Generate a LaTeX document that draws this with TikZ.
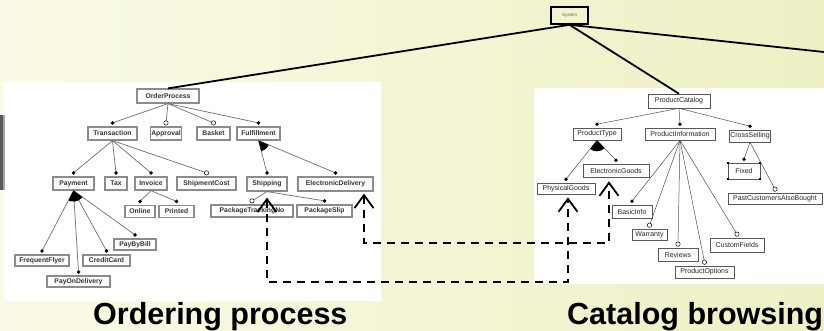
\documentclass[tikz,border=0pt]{standalone}
\usepackage{fontspec}
\setmainfont{Liberation Sans}
\usetikzlibrary{arrows.meta,calc}
\definecolor{bgleft}{HTML}{FAFAE6}
\definecolor{bgright}{HTML}{EEF0C4}
\definecolor{lline}{HTML}{707070}
\definecolor{rline}{HTML}{505050}

% filled sector marking an or-group under a parent feature
\newcommand\orwedge[3]{%
  \fill (#1) \foreach \t in {0,0.2,0.4,0.6,0.8,1} { -- ($(#1)!11pt!($(#2)!\t!(#3)$)$) } -- cycle;}

\tikzset{
  lbox/.style={draw=black!45, line width=1.2pt, fill=white, inner sep=1pt,
    font=\fontsize{6.8}{7}\selectfont\bfseries, text=black!80},
  rbox/.style={draw=black!65, line width=0.6pt, fill=white, inner sep=1pt,
    font=\fontsize{7}{8}\selectfont, text=black!85},
  sysbox/.style={draw=black, line width=1.6pt, inner sep=0pt,
    minimum width=37pt, minimum height=17pt,
    font=\fontsize{4.5}{5}\selectfont, text=black!60},
  sysline/.style={draw=black, line width=1.8pt},
  ledge/.style={draw=lline, line width=0.7pt},
  redge/.style={draw=rline, line width=0.5pt},
  mand/.style={fill=black, radius=1.9pt},
  opt/.style={draw=black, fill=white, line width=0.5pt, radius=2.2pt},
  reqlink/.style={draw=black, line width=1.8pt, dash pattern=on 8pt off 6pt,
    {Straight Barb[length=13pt,width=19pt]}-{Straight Barb[length=13pt,width=19pt]}},
  caption/.style={font=\fontsize{30.5}{31}\selectfont\bfseries, text=black, inner sep=0pt, anchor=base west}
}

\begin{document}
\begin{tikzpicture}[x=1pt,y=-1pt]
\useasboundingbox (0,0) rectangle (824,331);
\shade[left color=bgleft, right color=bgright] (0,0) rectangle (824,331);

% white panels holding the two feature trees
\fill[white] (4,82) rectangle (381,301);
\fill[white] (534,88) rectangle (824,284);
% grey strip at the left border
\fill[black!65] (0,115) rectangle (3,190);
\fill[black!35] (3,115) rectangle (4.5,190);

% ---------- ordering process tree ----------
\node[lbox, minimum width=62pt, minimum height=14pt] (orderproc) at (168,96) {OrderProcess};
\node[lbox, minimum width=49pt, minimum height=13pt] (transaction) at (112.5,133.5) {Transaction};
\node[lbox, minimum width=28pt, minimum height=13pt] (approval) at (166,133.5) {Approval};
\node[lbox, minimum width=33pt, minimum height=13pt] (basket) at (213.5,133.5) {Basket};
\node[lbox, minimum width=43pt, minimum height=13pt] (fulfillment) at (258.5,133.5) {Fulfillment};
\node[lbox, minimum width=41pt, minimum height=13pt] (payment) at (73.5,183.5) {Payment};
\node[lbox, minimum width=22pt, minimum height=13pt] (tax) at (116,183.5) {Tax};
\node[lbox, minimum width=32pt, minimum height=13pt] (invoice) at (151,183.5) {Invoice};
\node[lbox, minimum width=59pt, minimum height=13pt] (shipcost) at (206.5,183.5) {ShipmentCost};
\node[lbox, minimum width=40pt, minimum height=14pt] (shipping) at (267,184) {Shipping};
\node[lbox, minimum width=75pt, minimum height=14pt] (elecdel) at (335.5,184) {ElectronicDelivery};
\node[lbox, minimum width=30pt, minimum height=12pt] (online) at (140,211.5) {Online};
\node[lbox, minimum width=35pt, minimum height=12pt] (printed) at (176.5,211.5) {Printed};
\node[lbox, minimum width=82pt, minimum height=12pt] (pkgtrack) at (252,211) {PackageTrackingNo};
\node[lbox, minimum width=55pt, minimum height=12pt] (pkgslip) at (324.5,211) {PackageSlip};
\node[lbox, minimum width=42pt, minimum height=11pt] (paybybill) at (135,244.5) {PayByBill};
\node[lbox, minimum width=54pt, minimum height=11pt] (freqflyer) at (42,260.5) {FrequentFlyer};
\node[lbox, minimum width=47pt, minimum height=11pt] (creditcard) at (106.5,260.5) {CreditCard};
\node[lbox, minimum width=63pt, minimum height=11pt] (payondel) at (78.5,281.5) {PayOnDelivery};

\foreach \p/\c/\k in {orderproc/transaction/mand, orderproc/approval/opt,
    orderproc/basket/opt, orderproc/fulfillment/mand,
    transaction/payment/mand, transaction/tax/mand, transaction/invoice/mand,
    transaction/shipcost/opt, fulfillment/shipping/mand, fulfillment/elecdel/mand,
    invoice/online/mand, invoice/printed/mand,
    shipping/pkgtrack/opt, shipping/pkgslip/mand,
    payment/freqflyer/mand, payment/payondel/mand, payment/creditcard/mand,
    payment/paybybill/mand} {
  \draw[ledge] (\p.south) -- ([yshift=3.5pt]\c.north) coordinate (\c-tip);
  \path[\k] (\c-tip) circle;
}
\orwedge{fulfillment.south}{shipping-tip}{elecdel-tip}
\orwedge{payment.south}{freqflyer-tip}{paybybill-tip}

% ---------- catalog browsing tree ----------
\node[rbox, minimum width=62pt, minimum height=14pt] (prodcat) at (679,101) {ProductCatalog};
\node[rbox, minimum width=48pt, minimum height=12pt] (prodtype) at (597,134) {ProductType};
\node[rbox, minimum width=70pt, minimum height=12pt] (prodinfo) at (680,134) {ProductInformation};
\node[rbox, minimum width=34pt, minimum height=12pt] (crosssell) at (750,136) {CrossSelling};
\node[rbox, minimum width=58pt, minimum height=11pt] (physgoods) at (566,188.5) {PhysicalGoods};
\node[rbox, minimum width=66pt, minimum height=13pt] (elecgoods) at (616,170.5) {ElectronicGoods};
\node[rbox, minimum width=32pt, minimum height=16pt] (fixed) at (744,171) {Fixed};
\node[rbox, minimum width=94pt, minimum height=11pt] (pcab) at (775,198.5) {PastCustomersAlsoBought};
\node[rbox, minimum width=40pt, minimum height=13pt] (basicinfo) at (632,211.5) {BasicInfo};
\node[rbox, minimum width=35pt, minimum height=11pt] (warranty) at (649.5,234.5) {Warranty};
\node[rbox, minimum width=40pt, minimum height=13pt] (reviews) at (678,254.5) {Reviews};
\node[rbox, minimum width=59pt, minimum height=12pt] (prodopts) at (704.5,272) {ProductOptions};
\node[rbox, minimum width=54pt, minimum height=14pt] (customfields) at (737,245) {CustomFields};

% selection handles on the corners of the Fixed box
\foreach \a in {north west, north east, south west, south east}
  \fill (fixed.\a) ++(-1.1pt,-1.1pt) rectangle ++(2.2pt,2.2pt);

\foreach \p/\c/\k in {prodcat/prodtype/mand, prodcat/prodinfo/mand, prodcat/crosssell/mand,
    prodtype/physgoods/mand, prodtype/elecgoods/mand,
    prodinfo/basicinfo/mand, prodinfo/warranty/opt, prodinfo/reviews/opt,
    prodinfo/prodopts/opt, prodinfo/customfields/opt,
    crosssell/fixed/mand, crosssell/pcab/opt} {
  \draw[redge] (\p.south) -- ([yshift=3.5pt]\c.north) coordinate (\c-tip);
  \path[\k] (\c-tip) circle;
}
\orwedge{prodtype.south}{physgoods-tip}{elecgoods-tip}

% ---------- root and its links ----------
\node[sysbox] (system) at (569.5,15.5) {System};
\coordinate (rootout) at (824,52);
\draw[sysline] (system.south) -- (orderproc.north);
\draw[sysline] (system.south) -- (prodcat.north);
\draw[sysline] (system.south) -- (rootout);

% ---------- requires links between the two trees ----------
\coordinate (shipArr) at ([yshift=-6pt]shipping.south);
\coordinate (physArr) at ([xshift=2pt,yshift=-3pt]physgoods.south);
\coordinate (edArr) at ([xshift=28.5pt,yshift=-2pt]elecdel.south);
\coordinate (egArr) at ([xshift=-7pt,yshift=-4pt]elecgoods.south);
\coordinate (lowA) at (0,282);
\coordinate (lowB) at (0,243);
\draw[reqlink] (shipArr) -- (shipArr |- lowA) -| (physArr);
\draw[reqlink] (edArr) -- (edArr |- lowB) -| (egArr);

% ---------- captions ----------
\node[caption] (capA) at (93,324) {Ordering process};
\node[caption] (capB) at (567,324) {Catalog browsing};
\end{tikzpicture}
\end{document}
